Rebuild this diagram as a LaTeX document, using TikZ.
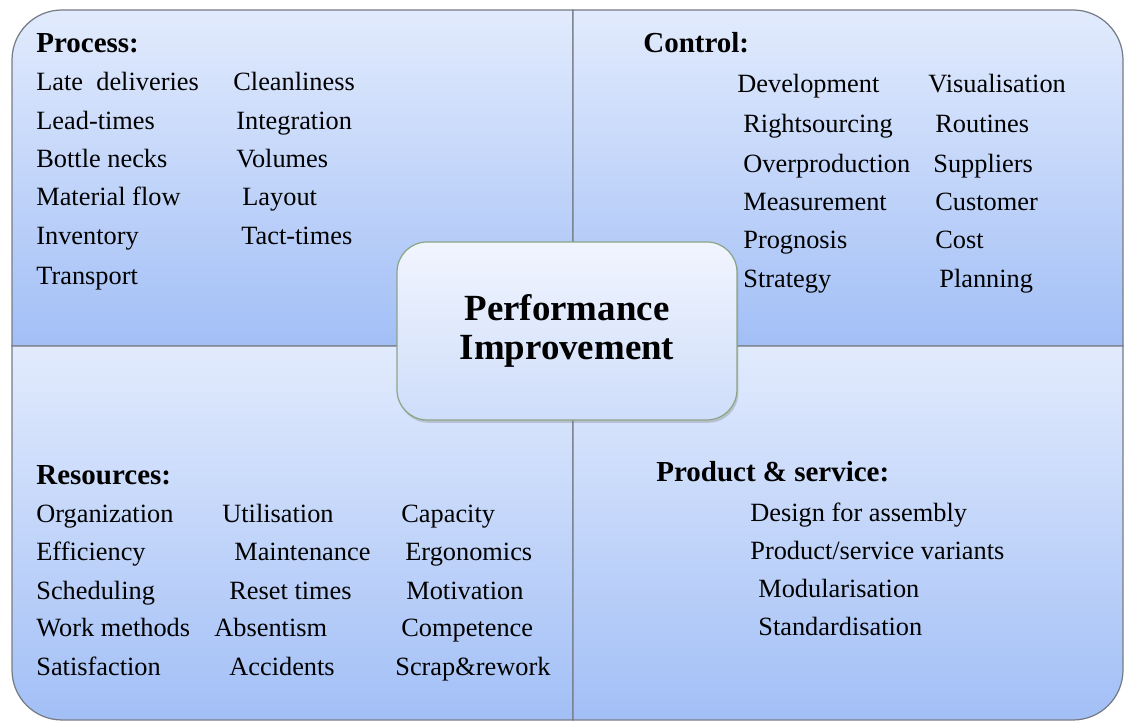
\documentclass[tikz,border=0pt]{standalone}
\usepackage{fontspec}
\setmainfont{Liberation Serif}
\usepackage{tikz}
\usetikzlibrary{shadows}
\definecolor{quadtop}{RGB}{226,235,253}
\definecolor{quadbot}{RGB}{162,191,246}
\definecolor{boxtop}{RGB}{241,245,254}
\definecolor{boxbot}{RGB}{206,221,250}
\definecolor{boxline}{RGB}{140,165,135}
\definecolor{edgeline}{RGB}{118,124,134}

\begin{document}
\begin{tikzpicture}[x=0.02cm,y=0.02cm,
 quad/.style={top color=quadtop, bottom color=quadbot, draw=edgeline, line width=0.7pt},
 item/.style={anchor=base west, inner sep=0pt, font=\fontsize{15}{18}\selectfont},
 head/.style={anchor=base west, inner sep=0pt, font=\fontsize{16.5}{20}\selectfont\bfseries}]
\useasboundingbox (0,0) rectangle (1126,722);
% Quadrants
\path[quad] (573,376) -- (12,376) -- (12,662) arc (180:90:50) -- (573,712) -- cycle;
\path[quad] (573,712) -- (1073,712) arc (90:0:50) -- (1123,376) -- (573,376) -- cycle;
\path[quad] (573,376) -- (12,376) -- (12,52) arc (180:270:50) -- (573,2) -- cycle;
\path[quad] (573,376) -- (1123,376) -- (1123,52) arc (0:-90:50) -- (573,2) -- cycle;
% Process
\node[head] (process) at (36,669) {Process:};
 \node[item] (late) at (36,631) {Late\ \ deliveries};
 \node[item] (lead) at (36,592) {Lead-times};
 \node[item] (bottle) at (36,554) {Bottle necks};
 \node[item] (material) at (36,516) {Material flow};
 \node[item] (inventory) at (36,477) {Inventory};
 \node[item] (transport) at (36,437) {Transport};
 \node[item] (clean) at (233,631) {Cleanliness};
 \node[item] (integration) at (236,592) {Integration};
 \node[item] (volumes) at (236,554) {Volumes};
 \node[item] (layout) at (242,516) {Layout};
 \node[item] (tact) at (241,477) {Tact-times};
% Control
\node[head] (control) at (643,669) {Control:};
 \node[item] (development) at (737,629) {Development};
 \node[item] (rightsourcing) at (743,589) {Rightsourcing};
 \node[item] (overproduction) at (743,549) {Overproduction};
 \node[item] (measurement) at (743,511) {Measurement};
 \node[item] (prognosis) at (743,473) {Prognosis};
 \node[item] (strategy) at (743,434) {Strategy};
 \node[item] (visualisation) at (928,629) {Visualisation};
 \node[item] (routines) at (935,589) {Routines};
 \node[item] (suppliers) at (933,549) {Suppliers};
 \node[item] (customer) at (935,511) {Customer};
 \node[item] (cost) at (935,473) {Cost};
 \node[item] (planning) at (939,434) {Planning};
% Resources
\node[head] (resources) at (36,237) {Resources:};
 \node[item] (organization) at (36,199) {Organization};
 \node[item] (efficiency) at (36,161) {Efficiency};
 \node[item] (scheduling) at (36,122) {Scheduling};
 \node[item] (workmethods) at (36,85) {Work methods};
 \node[item] (satisfaction) at (36,46) {Satisfaction};
 \node[item] (utilisation) at (222,199) {Utilisation};
 \node[item] (maintenance) at (234,161) {Maintenance};
 \node[item] (reset) at (229,122) {Reset times};
 \node[item] (absentism) at (214,85) {Absentism};
 \node[item] (accidents) at (229,46) {Accidents};
 \node[item] (capacity) at (401,199) {Capacity};
 \node[item] (ergonomics) at (405,161) {Ergonomics};
 \node[item] (motivation) at (406,122) {Motivation};
 \node[item] (competence) at (401,85) {Competence};
 \node[item] (scrap) at (395,46) {Scrap\&rework};
% Product & service
\node[head] (product) at (656,240) {Product \& service:};
 \node[item] (design) at (750,200) {Design for assembly};
 \node[item] (variants) at (750,162) {Product/service variants};
 \node[item] (modular) at (758,124) {Modularisation};
 \node[item] (standard) at (758,86) {Standardisation};
% Centre
\node[draw=boxline, line width=0.7pt, top color=boxtop, bottom color=boxbot, rounded corners=0.6cm,
 minimum width=6.8cm, minimum height=3.56cm, align=center, drop shadow={shadow xshift=0.8pt, shadow yshift=-1.6pt, opacity=0.35},
 font=\fontsize{21}{22.5}\selectfont\bfseries] (perf) at (567,391) {Performance\\Improvement};
\end{tikzpicture}
\end{document}
